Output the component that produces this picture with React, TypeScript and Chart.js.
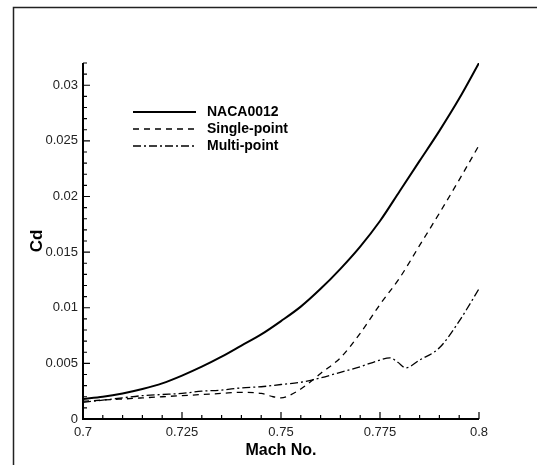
import React, { useEffect, useRef } from "react";
import { Chart, registerables } from "chart.js";

Chart.register(...registerables);

// ---- data ----
const nacaMach = [0.7, 0.705, 0.71, 0.715, 0.72, 0.725, 0.73, 0.735, 0.74, 0.745, 0.75, 0.755, 0.76, 0.765, 0.77, 0.775, 0.78, 0.785, 0.79, 0.795, 0.8];
const nacaCd = [0.0018, 0.002, 0.0023, 0.0027, 0.0032, 0.0039, 0.0047, 0.0056, 0.0066, 0.0076, 0.0088, 0.0101, 0.0117, 0.0135, 0.0155, 0.0178, 0.0205, 0.0232, 0.0259, 0.0288, 0.032];

const singleMach = [0.7, 0.705, 0.71, 0.715, 0.72, 0.725, 0.73, 0.735, 0.74, 0.745, 0.748, 0.75, 0.752, 0.755, 0.758, 0.76, 0.765, 0.77, 0.775, 0.78, 0.785, 0.79, 0.795, 0.8];
const singleCd = [0.0016, 0.0017, 0.0018, 0.0019, 0.002, 0.0021, 0.0022, 0.0023, 0.0024, 0.0023, 0.002, 0.0019, 0.0021, 0.0027, 0.0035, 0.0041, 0.0055, 0.0077, 0.0103, 0.0127, 0.0156, 0.0185, 0.0215, 0.0246];

const multiMach = [0.7, 0.705, 0.71, 0.715, 0.72, 0.725, 0.73, 0.735, 0.74, 0.745, 0.75, 0.755, 0.76, 0.765, 0.77, 0.775, 0.7775, 0.7795, 0.7815, 0.785, 0.79, 0.795, 0.8];
const multiCd = [0.0015, 0.0017, 0.0019, 0.0021, 0.0022, 0.0023, 0.0025, 0.0026, 0.0028, 0.0029, 0.0031, 0.0033, 0.0037, 0.0042, 0.0047, 0.0053, 0.0055, 0.0051, 0.0046, 0.0053, 0.0064, 0.0088, 0.0117];

const seriesNames = ["NACA0012", "Single-point", "Multi-point"];

const xTickValues = [0.7, 0.725, 0.75, 0.775, 0.8];
const xTickLabels = ["0.7", "0.725", "0.75", "0.775", "0.8"];
const yTickValues = [0, 0.005, 0.01, 0.015, 0.02, 0.025, 0.03];
const yTickLabels = ["0", "0.005", "0.01", "0.015", "0.02", "0.025", "0.03"];

const xMin = 0.7;
const xMax = 0.8;
const yMin = 0;
const yMax = 0.032;

const xTitle = "Mach No.";
const yTitle = "Cd";

const styles = [
  { width: 2, dash: [] as number[] },
  { width: 1.3, dash: [6, 5] },
  { width: 1.3, dash: [8, 3, 2, 3] },
];

const toPoints = (xs: number[], ys: number[]) => xs.map((x, i) => ({ x, y: ys[i] }));

const decorPlugin = {
  id: "decor",
  beforeDraw(chart: any) {
    const { ctx } = chart;
    ctx.save();
    ctx.strokeStyle = "#222";
    ctx.lineWidth = 1.5;
    ctx.beginPath();
    ctx.moveTo(13.5, 465);
    ctx.lineTo(13.5, 7.5);
    ctx.lineTo(537, 7.5);
    ctx.stroke();
    ctx.restore();
  },
  afterDraw(chart: any) {
    const { ctx, chartArea } = chart;
    const x = chart.scales.x;
    const y = chart.scales.y;
    const left = chartArea.left;
    const bottom = chartArea.bottom;
    ctx.save();
    ctx.strokeStyle = "#000";
    ctx.lineWidth = 2;
    ctx.setLineDash([]);
    ctx.beginPath();
    ctx.moveTo(left, y.getPixelForValue(yMax));
    ctx.lineTo(left, bottom);
    ctx.lineTo(x.getPixelForValue(xMax), bottom);
    ctx.stroke();

    // inward ticks
    ctx.lineWidth = 1.2;
    ctx.beginPath();
    for (let i = 0; i <= 32; i++) {
      const py = y.getPixelForValue(i * 0.001);
      const len = i % 5 === 0 ? 7 : 4;
      ctx.moveTo(left, py);
      ctx.lineTo(left + len, py);
    }
    for (let i = 0; i <= 20; i++) {
      const px = x.getPixelForValue(xMin + i * 0.005);
      const len = i % 5 === 0 ? 7 : 4;
      ctx.moveTo(px, bottom);
      ctx.lineTo(px, bottom - len);
    }
    ctx.stroke();

    // legend
    const rows = [112, 129, 146];
    ctx.font = "bold 14px 'Liberation Sans', Arial, sans-serif";
    ctx.textBaseline = "middle";
    ctx.textAlign = "left";
    ctx.fillStyle = "#000";
    seriesNames.forEach((name, i) => {
      ctx.lineWidth = styles[i].width;
      ctx.setLineDash(styles[i].dash);
      ctx.beginPath();
      ctx.moveTo(133, rows[i]);
      ctx.lineTo(196, rows[i]);
      ctx.stroke();
      ctx.setLineDash([]);
      ctx.fillText(name, 207, rows[i]);
    });
    ctx.restore();
  },
};

export default function App() {
  const ref = useRef<HTMLCanvasElement | null>(null);
  useEffect(() => {
    if (!ref.current) return;
    const seriesData = [
      toPoints(nacaMach, nacaCd),
      toPoints(singleMach, singleCd),
      toPoints(multiMach, multiCd),
    ];
    const chart = new Chart(ref.current, {
      type: "line",
      data: {
        datasets: seriesData.map((d, i) => ({
          label: seriesNames[i],
          data: d,
          borderColor: "#000",
          backgroundColor: "#000",
          borderWidth: styles[i].width,
          borderDash: styles[i].dash,
          pointRadius: 0,
          fill: false,
          cubicInterpolationMode: "monotone" as const,
        })),
      },
      options: {
        animation: false,
        responsive: false,
        maintainAspectRatio: false,
        layout: { padding: { left: 0, top: 63, right: 58, bottom: 0 } },
        plugins: { legend: { display: false }, tooltip: { enabled: false } },
        scales: {
          x: {
            type: "linear",
            min: xMin,
            max: xMax,
            grid: { display: false, drawTicks: false },
            border: { display: false },
            afterBuildTicks: (s: any) => {
              s.ticks = xTickValues.map((v) => ({ value: v }));
            },
            afterFit: (s: any) => {
              s.height = 46;
            },
            ticks: {
              padding: 6,
              color: "#222",
              font: { family: "'Liberation Sans', Arial, sans-serif", size: 13 },
              maxRotation: 0,
              callback: (v: any) => {
                const i = xTickValues.findIndex((t) => Math.abs(t - Number(v)) < 1e-9);
                return i >= 0 ? xTickLabels[i] : "";
              },
            },
            title: {
              display: true,
              text: xTitle,
              color: "#000",
              padding: { top: 0, bottom: 5 },
              font: { family: "'Liberation Sans', Arial, sans-serif", size: 16, weight: "bold" },
            },
          },
          y: {
            type: "linear",
            min: yMin,
            max: yMax,
            grid: { display: false, drawTicks: false },
            border: { display: false },
            afterBuildTicks: (s: any) => {
              s.ticks = yTickValues.map((v) => ({ value: v }));
            },
            afterFit: (s: any) => {
              s.width = 83;
            },
            ticks: {
              padding: 5,
              color: "#222",
              font: { family: "'Liberation Sans', Arial, sans-serif", size: 13 },
              callback: (v: any) => {
                const i = yTickValues.findIndex((t) => Math.abs(t - Number(v)) < 1e-9);
                return i >= 0 ? yTickLabels[i] : "";
              },
            },
            title: {
              display: true,
              text: yTitle,
              color: "#000",
              padding: { top: 27, bottom: 0 },
              font: { family: "'Liberation Sans', Arial, sans-serif", size: 17, weight: "bold" },
            },
          },
        },
      },
      plugins: [decorPlugin],
    });
    return () => chart.destroy();
  }, []);
  return (
    <div style={{ position: "fixed", left: 0, top: 0, width: 537, height: 465, background: "#fff" }}>
      <canvas ref={ref} width={537} height={465} style={{ display: "block", width: 537, height: 465 }} />
    </div>
  );
}
